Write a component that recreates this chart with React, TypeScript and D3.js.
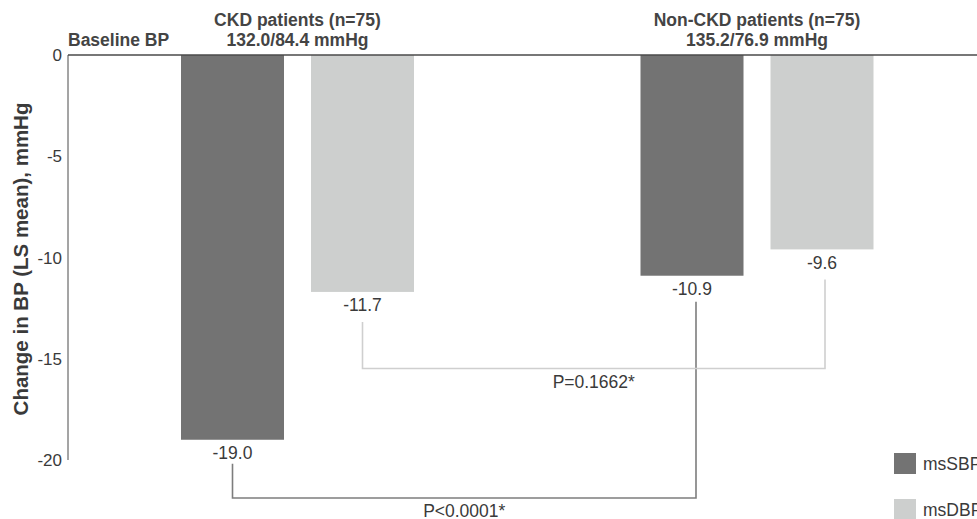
import React from "react";
import * as d3 from "d3";

const groups = ["CKD patients (n=75)", "Non-CKD patients (n=75)"];
const baselines = ["132.0/84.4 mmHg", "135.2/76.9 mmHg"];
const seriesNames = ["msSBP", "msDBP"];
const sbpValues = [-19.0, -10.9];
const dbpValues = [-11.7, -9.6];
const yTicks = [0, -5, -10, -15, -20];
const pLabels = ["P<0.0001*", "P=0.1662*"];

const W = 977;
const H = 519;
const DARK = "#737373";
const LIGHT = "#cdcfce";
const FONT = "Arial, 'Liberation Sans', Helvetica, sans-serif";
const FS = 17.5;

export default function App() {
  const y = d3.scaleLinear().domain([0, -20]).range([55, 460]);
  const gx = d3.scaleLinear().domain([0, 1]).range([297.5, 757]);
  const sub = d3
    .scaleBand()
    .domain(seriesNames)
    .range([-116.5, 116.5])
    .paddingInner(27 / 130)
    .paddingOuter(0);

  const bars: { g: number; s: number; v: number }[] = [];
  groups.forEach((_, g) => {
    bars.push({ g, s: 0, v: sbpValues[g] });
    bars.push({ g, s: 1, v: dbpValues[g] });
  });
  const bw = sub.bandwidth();
  const barX = (g: number, s: number) => gx(g) + (sub(seriesNames[s]) as number);
  const center = (g: number, s: number) => barX(g, s) + bw / 2;

  const brackets = [
    {
      x1: center(0, 0),
      x2: center(1, 0) + 4,
      yTop1: y(sbpValues[0]) + 24,
      yTop2: y(sbpValues[1]) + 26,
      yBot: 498,
      color: "#7d7d7d",
      label: pLabels[0],
    },
    {
      x1: center(0, 1),
      x2: center(1, 1) + 3,
      yTop1: y(dbpValues[0]) + 30,
      yTop2: y(dbpValues[1]) + 30,
      yBot: 368.5,
      color: "#cfcfcf",
      label: pLabels[1],
    },
  ];

  return (
    <svg
      width={W}
      height={H}
      style={{ position: "absolute", left: 0, top: 0, background: "#fff" }}
      fontFamily={FONT}
    >
      {bars.map((b, i) => (
        <rect
          key={i}
          x={barX(b.g, b.s)}
          y={y(0)}
          width={bw}
          height={y(b.v) - y(0)}
          fill={b.s === 0 ? DARK : LIGHT}
        />
      ))}
      <line x1={68} x2={W} y1={y(0)} y2={y(0)} stroke="#4a4a4a" strokeWidth={1.5} />
      <line x1={68} x2={68} y1={y(0)} y2={y(-20)} stroke="#4a4a4a" strokeWidth={1} />
      {yTicks.map((t) => (
        <text key={t} x={62} y={y(t) + 6} textAnchor="end" fontSize={17} fill="#3a3a3a">
          {t}
        </text>
      ))}
      <text
        transform={`translate(28, ${259}) rotate(-90)`}
        textAnchor="middle"
        fontSize={20.5}
        fontWeight="bold"
        fill="#3a3a3a"
      >
        Change in BP (LS mean), mmHg
      </text>
      <text x={68} y={46} fontSize={FS} fontWeight="bold" fill="#444">
        Baseline BP
      </text>
      {groups.map((g, i) => (
        <g key={g}>
          <text x={gx(i)} y={26} textAnchor="middle" fontSize={FS} fontWeight="bold" fill="#444">
            {g}
          </text>
          <text x={gx(i)} y={46} textAnchor="middle" fontSize={FS} fontWeight="bold" fill="#444">
            {baselines[i]}
          </text>
        </g>
      ))}
      {bars.map((b, i) => (
        <text
          key={"v" + i}
          x={center(b.g, b.s)}
          y={y(b.v) + 19.5}
          textAnchor="middle"
          fontSize={FS}
          fill="#3a3a3a"
        >
          {b.v.toFixed(1)}
        </text>
      ))}
      {brackets.map((b, i) => (
        <g key={"b" + i}>
          <polyline
            points={`${b.x1},${b.yTop1} ${b.x1},${b.yBot} ${b.x2},${b.yBot} ${b.x2},${b.yTop2}`}
            fill="none"
            stroke={b.color}
            strokeWidth={1.6}
          />
          <text
            x={(b.x1 + b.x2) / 2}
            y={b.yBot + 19}
            textAnchor="middle"
            fontSize={FS}
            fill="#3a3a3a"
          >
            {b.label}
          </text>
        </g>
      ))}
      {seriesNames.map((s, i) => (
        <g key={s} transform={`translate(894, ${453 + i * 46})`}>
          <rect width={22} height={21} fill={i === 0 ? DARK : LIGHT} />
          <text x={29} y={17} fontSize={FS} fill="#3a3a3a">
            {s}
          </text>
        </g>
      ))}
    </svg>
  );
}
